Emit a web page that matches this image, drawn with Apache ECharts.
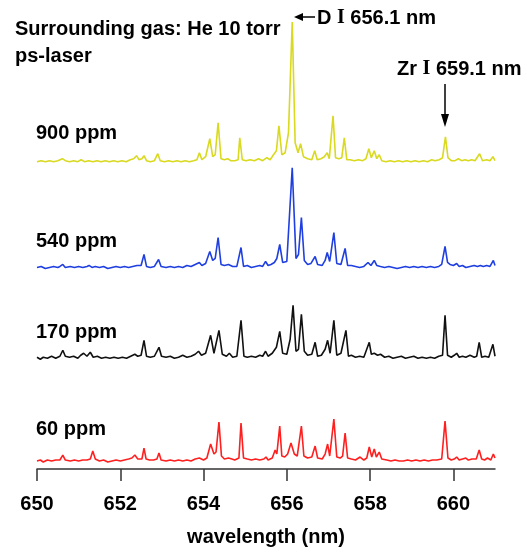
<!DOCTYPE html>
<html>
<head>
<meta charset="utf-8">
<script src="https://cdn.jsdelivr.net/npm/echarts@6/dist/echarts.min.js"></script>
<style>
    html, body {margin: 0; padding: 0; background: #fff;}
    #chart {width: 527px; height: 552px;}
</style>
</head>
<body>
<div id="chart"></div>
<script>
// tick labels on the wavelength axis
var tickValues = [650, 652, 654, 656, 658, 660];

// series names, bottom to top
var seriesNames = ['60 ppm', '170 ppm', '540 ppm', '900 ppm'];
var seriesColors = ['#ff1f1f', '#111111', '#1f3fe0', '#d9d920'];
// vertical offset of each trace (a.u.)
var offsets = [7, 110, 201, 307];

// [wavelength nm, intensity a.u.]
var ppm60 = [
    [650.00, 1], [650.08, 2], [650.15, 0], [650.25, 2], [650.35, 1], [650.45, 2], [650.55, 2], [650.62, 7], [650.68, 2],
    [650.80, 1], [650.90, 2], [651.00, 1], [651.10, 2], [651.20, 2], [651.28, 3], [651.34, 11], [651.40, 3], [651.50, 1],
    [651.60, 2], [651.70, 0], [651.80, 1], [651.90, 2], [652.00, 1], [652.10, 2], [652.20, 3], [652.28, 4], [652.35, 7],
    [652.42, 3], [652.52, 3], [652.57, 14], [652.62, 3], [652.70, 2], [652.80, 2], [652.88, 3], [652.93, 9], [652.98, 2],
    [653.10, 1], [653.20, 2], [653.30, 1], [653.40, 2], [653.50, 1], [653.60, 2], [653.70, 1], [653.80, 3], [653.90, 4],
    [654.00, 2], [654.08, 4], [654.17, 18], [654.25, 8], [654.30, 10], [654.37, 40], [654.43, 6], [654.50, 3], [654.60, 4],
    [654.68, 3], [654.75, 2], [654.85, 4], [654.90, 39], [654.96, 4], [655.05, 3], [655.15, 2], [655.25, 3], [655.35, 2],
    [655.45, 3], [655.50, 5], [655.55, 2], [655.65, 4], [655.72, 12], [655.76, 8], [655.83, 36], [655.88, 6], [655.95, 5],
    [656.02, 8], [656.10, 19], [656.18, 8], [656.25, 6], [656.35, 36], [656.41, 6], [656.50, 4], [656.60, 5], [656.68, 16],
    [656.74, 4], [656.85, 3], [656.92, 8], [656.98, 18], [657.03, 6], [657.13, 43], [657.20, 5], [657.28, 4], [657.34, 6],
    [657.40, 29], [657.46, 4], [657.55, 3], [657.65, 2], [657.76, 5], [657.85, 2], [657.92, 4], [657.98, 15], [658.04, 5],
    [658.10, 13], [658.15, 5], [658.22, 10], [658.28, 3], [658.40, 2], [658.50, 1], [658.60, 2], [658.70, 1], [658.80, 1],
    [658.90, 2], [659.00, 1], [659.10, 2], [659.20, 1], [659.30, 2], [659.40, 1], [659.50, 2], [659.60, 2], [659.72, 3],
    [659.80, 41], [659.87, 4], [659.95, 2], [660.02, 3], [660.08, 5], [660.14, 2], [660.22, 3], [660.30, 4], [660.36, 2],
    [660.45, 3], [660.55, 3], [660.62, 12], [660.68, 3], [660.75, 2], [660.82, 4], [660.90, 2], [660.96, 8], [661.00, 4]
];

var ppm170 = [
    [650.00, 2], [650.08, 0], [650.15, 2], [650.25, 1], [650.35, 3], [650.45, 1], [650.55, 3], [650.62, 9], [650.68, 3],
    [650.78, 2], [650.88, 3], [650.98, 1], [651.05, 4], [651.12, 6], [651.20, 3], [651.28, 7], [651.35, 2], [651.45, 3],
    [651.55, 1], [651.65, 2], [651.75, 1], [651.85, 2], [651.95, 1], [652.05, 2], [652.15, 1], [652.25, 3], [652.35, 5],
    [652.42, 3], [652.50, 4], [652.57, 19], [652.63, 3], [652.72, 2], [652.82, 3], [652.93, 12], [652.99, 3], [653.10, 2],
    [653.20, 3], [653.30, 1], [653.40, 2], [653.50, 4], [653.60, 2], [653.70, 3], [653.80, 5], [653.88, 8], [653.95, 4],
    [654.05, 6], [654.17, 24], [654.25, 6], [654.37, 29], [654.45, 5], [654.55, 3], [654.62, 6], [654.70, 2], [654.80, 3],
    [654.90, 39], [654.97, 3], [655.05, 2], [655.15, 3], [655.25, 2], [655.35, 4], [655.42, 3], [655.49, 8], [655.55, 3],
    [655.65, 6], [655.75, 12], [655.83, 28], [655.90, 6], [656.00, 5], [656.08, 20], [656.15, 54], [656.22, 8], [656.28, 10],
    [656.35, 45], [656.42, 8], [656.50, 4], [656.60, 5], [656.68, 17], [656.74, 3], [656.83, 4], [656.92, 10], [656.98, 19],
    [657.04, 6], [657.13, 39], [657.20, 4], [657.30, 6], [657.42, 29], [657.48, 3], [657.55, 4], [657.65, 2], [657.75, 3],
    [657.85, 2], [657.98, 17], [658.03, 5], [658.10, 6], [658.18, 4], [658.25, 5], [658.35, 2], [658.45, 3], [658.55, 1],
    [658.65, 2], [658.75, 3], [658.85, 1], [658.95, 2], [659.05, 3], [659.15, 1], [659.25, 2], [659.35, 1], [659.45, 2],
    [659.55, 1], [659.65, 3], [659.74, 4], [659.80, 44], [659.86, 4], [659.95, 2], [660.02, 4], [660.08, 6], [660.14, 2],
    [660.22, 3], [660.30, 2], [660.40, 4], [660.50, 2], [660.56, 3], [660.62, 17], [660.68, 2], [660.76, 3], [660.85, 2],
    [660.95, 15], [661.00, 3]
];

var ppm540 = [
    [650.00, 1], [650.10, 2], [650.20, 0], [650.30, 1], [650.40, 2], [650.50, 1], [650.55, 2], [650.62, 4], [650.68, 1],
    [650.80, 2], [650.90, 1], [651.00, 2], [651.10, 1], [651.20, 2], [651.25, 3], [651.32, 1], [651.40, 2], [651.50, 1],
    [651.60, 2], [651.70, 0], [651.80, 1], [651.90, 2], [652.00, 1], [652.10, 2], [652.20, 1], [652.30, 2], [652.40, 3],
    [652.50, 3], [652.57, 14], [652.63, 2], [652.72, 1], [652.82, 2], [652.92, 9], [652.98, 2], [653.10, 1], [653.20, 2],
    [653.30, 1], [653.40, 2], [653.50, 1], [653.60, 3], [653.70, 2], [653.80, 4], [653.90, 6], [653.96, 3], [654.05, 5],
    [654.15, 17], [654.22, 8], [654.28, 10], [654.35, 31], [654.42, 4], [654.50, 3], [654.60, 4], [654.70, 2], [654.80, 2],
    [654.90, 21], [654.96, 2], [655.05, 3], [655.15, 1], [655.25, 2], [655.35, 3], [655.42, 2], [655.49, 7], [655.55, 3],
    [655.62, 4], [655.70, 6], [655.76, 10], [655.83, 24], [655.90, 6], [656.00, 7], [656.13, 101], [656.22, 10], [656.28, 14],
    [656.35, 51], [656.42, 8], [656.50, 4], [656.58, 5], [656.68, 12], [656.74, 4], [656.85, 3], [656.92, 8], [656.97, 16],
    [657.03, 7], [657.13, 36], [657.20, 5], [657.30, 4], [657.40, 20], [657.46, 3], [657.55, 3], [657.65, 2], [657.75, 1],
    [657.85, 2], [657.95, 6], [658.02, 3], [658.10, 8], [658.16, 3], [658.25, 2], [658.35, 1], [658.45, 2], [658.55, 1],
    [658.65, 0], [658.75, 1], [658.85, 2], [658.95, 1], [659.05, 2], [659.15, 1], [659.25, 2], [659.35, 1], [659.45, 2],
    [659.55, 1], [659.65, 2], [659.72, 4], [659.80, 22], [659.86, 6], [659.92, 4], [660.00, 3], [660.08, 5], [660.14, 2],
    [660.22, 3], [660.30, 1], [660.40, 2], [660.50, 3], [660.58, 2], [660.65, 3], [660.72, 2], [660.80, 3], [660.88, 2],
    [660.96, 8], [661.00, 3]
];

var ppm900 = [
    [650.00, 1], [650.10, 2], [650.20, 1], [650.30, 2], [650.40, 1], [650.50, 2], [650.61, 4], [650.68, 2], [650.78, 1],
    [650.88, 2], [650.98, 1], [651.06, 3], [651.14, 1], [651.24, 2], [651.34, 1], [651.44, 2], [651.54, 1], [651.64, 2],
    [651.74, 1], [651.84, 2], [651.94, 1], [652.04, 2], [652.14, 1], [652.24, 3], [652.32, 4], [652.39, 7], [652.45, 3],
    [652.52, 4], [652.57, 7], [652.63, 2], [652.72, 1], [652.82, 2], [652.90, 9], [652.96, 2], [653.06, 1], [653.16, 2],
    [653.26, 1], [653.36, 2], [653.46, 1], [653.56, 2], [653.66, 1], [653.76, 2], [653.84, 3], [653.90, 10], [653.96, 3],
    [654.05, 6], [654.15, 24], [654.22, 6], [654.28, 8], [654.35, 40], [654.42, 4], [654.50, 3], [654.58, 4], [654.65, 2],
    [654.75, 2], [654.83, 3], [654.87, 25], [654.93, 3], [655.02, 2], [655.12, 3], [655.22, 2], [655.32, 4], [655.42, 2],
    [655.52, 5], [655.60, 3], [655.68, 8], [655.75, 12], [655.81, 37], [655.88, 8], [655.96, 10], [656.04, 30], [656.13, 141],
    [656.20, 20], [656.27, 10], [656.33, 19], [656.40, 6], [656.50, 4], [656.60, 3], [656.67, 12], [656.73, 3], [656.82, 4],
    [656.90, 6], [656.97, 10], [657.02, 4], [657.11, 47], [657.17, 5], [657.25, 4], [657.32, 5], [657.38, 25], [657.44, 3],
    [657.52, 3], [657.62, 2], [657.72, 3], [657.82, 2], [657.90, 4], [657.97, 14], [658.03, 5], [658.10, 12], [658.16, 4],
    [658.22, 8], [658.28, 2], [658.38, 1], [658.48, 2], [658.58, 1], [658.68, 2], [658.78, 1], [658.88, 2], [658.98, 1],
    [659.08, 2], [659.18, 1], [659.28, 2], [659.38, 1], [659.48, 3], [659.56, 2], [659.66, 3], [659.74, 5], [659.81, 26],
    [659.87, 5], [659.95, 2], [660.04, 2], [660.12, 4], [660.20, 2], [660.28, 3], [660.36, 2], [660.44, 3], [660.52, 2],
    [660.63, 9], [660.70, 2], [660.80, 3], [660.88, 2], [660.95, 6], [661.00, 2]
];

var traces = [ppm60, ppm170, ppm540, ppm900];

var chart = echarts.init(document.getElementById('chart'));

var font = 'Liberation Sans, Arial, sans-serif';
var serif = 'Liberation Serif, Times New Roman, serif';

var series = traces.map(function (trace, i) {
    return {
        name: seriesNames[i],
        type: 'line',
        showSymbol: false,
        clip: false,
        lineStyle: {color: seriesColors[i], width: 1.6},
        data: trace.map(function (p) {
            return [p[0], p[1] + offsets[i]];
        })
    };
});

// label text for each trace
var labelY = [430, 333, 242, 134];
var graphics = seriesNames.map(function (name, i) {
    return {
        type: 'text',
        left: 36,
        top: labelY[i] - 11,
        style: {text: name, font: 'bold 20px ' + font, fill: '#000'}
    };
});

var richBase = {
    t: {fontFamily: font, fontWeight: 'bold', fontSize: 20, color: '#000'},
    r: {fontFamily: serif, fontWeight: 'bold', fontSize: 20, color: '#000'}
};

graphics.push(
    {
        type: 'text', left: 15, top: 19,
        style: {text: 'Surrounding gas: He 10 torr', font: 'bold 20px ' + font, fill: '#000'}
    },
    {
        type: 'text', left: 15, top: 46,
        style: {text: 'ps-laser', font: 'bold 20px ' + font, fill: '#000'}
    },
    {
        type: 'text', left: 317, top: 8,
        style: {text: '{t|D }{r|I}{t| 656.1 nm}', rich: richBase}
    },
    {
        type: 'text', left: 397, top: 59,
        style: {text: '{t|Zr }{r|I}{t| 659.1 nm}', rich: richBase}
    },
    // arrow to D line
    {type: 'line', shape: {x1: 302, y1: 17, x2: 315, y2: 17}, style: {stroke: '#000', lineWidth: 1.5}},
    {type: 'polygon', shape: {points: [[294, 17], [303, 13], [303, 21]]}, style: {fill: '#000'}},
    // arrow to Zr line
    {type: 'line', shape: {x1: 445, y1: 84, x2: 445, y2: 116}, style: {stroke: '#000', lineWidth: 1.5}},
    {type: 'polygon', shape: {points: [[445, 127], [441, 114], [449, 114]]}, style: {fill: '#000'}}
);

var option = {
    backgroundColor: '#fff',
    animation: false,
    grid: {left: 37, right: 32, top: 20, bottom: 82},
    xAxis: {
        type: 'value',
        min: 650,
        max: 661,
        interval: 2,
        name: 'wavelength (nm)',
        nameLocation: 'middle',
        nameGap: 58,
        nameTextStyle: {fontFamily: font, fontWeight: 'bold', fontSize: 20, color: '#000'},
        splitLine: {show: false},
        axisLine: {lineStyle: {color: '#333', width: 1.5}},
        axisTick: {
            inside: false,
            length: 12,
            customValues: tickValues,
            lineStyle: {color: '#333', width: 1.5}
        },
        axisLabel: {
            margin: 25,
            customValues: tickValues,
            fontFamily: font,
            fontWeight: 'bold',
            fontSize: 20,
            color: '#000'
        }
    },
    yAxis: {
        type: 'value',
        show: false,
        min: 0,
        max: 450
    },
    graphic: graphics,
    series: series
};

chart.setOption(option);
</script>
</body>
</html>
